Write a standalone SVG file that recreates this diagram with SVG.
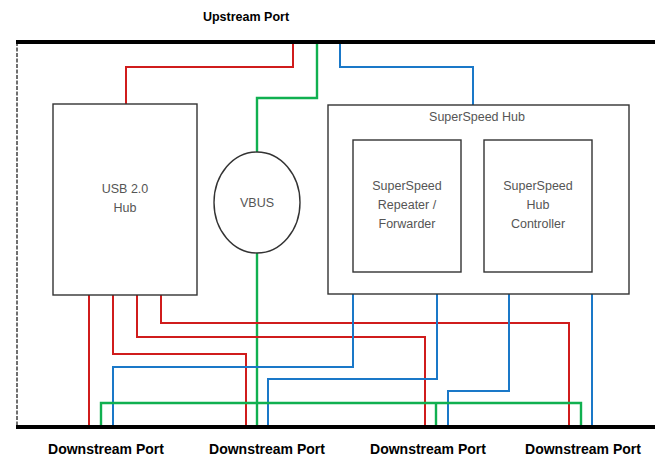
<svg xmlns="http://www.w3.org/2000/svg" width="655" height="456" viewBox="0 0 655 456">
<style>
.box{fill:#fff;stroke:#333;stroke-width:1.4}
.lbl{font-family:"Liberation Sans",Arial,sans-serif;font-size:12.5px;fill:#555;text-anchor:middle}
.port{font-family:"Liberation Sans",Arial,sans-serif;font-weight:bold;fill:#000;text-anchor:middle}
.r{fill:none;stroke:#d01c1c;stroke-width:2}
.g{fill:none;stroke:#10b050;stroke-width:2.4}
.b{fill:none;stroke:#1a78c8;stroke-width:2}
</style>
<rect width="655" height="456" fill="#fff"/>
<g id="frame">
<line x1="17" y1="42" x2="17" y2="427" stroke="#333" stroke-width="1.4" stroke-dasharray="4 1.5"/>
<line x1="16" y1="42" x2="655" y2="42" stroke="#000" stroke-width="4"/>
<line x1="16" y1="427" x2="655" y2="427" stroke="#000" stroke-width="4"/>
</g>
<g id="connectors">
<polyline class="r" points="293,44 293,67 126,67 126,104"/>
<polyline class="g" points="317,44 317,98 257,98 257,152"/>
<polyline class="b" points="340,44 340,67 473,67 473,105"/>
<line class="g" x1="257" y1="253" x2="257" y2="425"/>
<line class="r" x1="89" y1="295" x2="89" y2="425"/>
<polyline class="r" points="113,295 113,354 246,354 246,425"/>
<polyline class="r" points="137,295 137,337 425,337 425,425"/>
<polyline class="r" points="161,295 161,323 569,323 569,425"/>
<polyline class="b" points="353,294 353,367 113,367 113,425"/>
<polyline class="b" points="437,294 437,379 268,379 268,425"/>
<polyline class="b" points="509,294 509,391 448,391 448,425"/>
<line class="b" x1="592" y1="294" x2="592" y2="425"/>
<polyline class="g" points="101,425 101,403 581,403 581,425"/>
<line class="g" x1="436" y1="403" x2="436" y2="425"/>
</g>
<g id="usb2hub">
<rect class="box" x="53" y="104" width="144" height="191"/>
<text class="lbl" x="125" y="193">USB 2.0</text>
<text class="lbl" x="125" y="212">Hub</text>
</g>
<g id="vbus">
<ellipse class="box" cx="257" cy="202.5" rx="43" ry="50.5"/>
<text class="lbl" x="257" y="207">VBUS</text>
</g>
<g id="sshub">
<rect class="box" x="328" y="105" width="301" height="189"/>
<text class="lbl" x="477" y="121">SuperSpeed Hub</text>
</g>
<g id="repeater">
<rect class="box" x="353" y="140" width="108" height="132"/>
<text class="lbl" x="407" y="190">SuperSpeed</text>
<text class="lbl" x="407" y="209">Repeater /</text>
<text class="lbl" x="407" y="228">Forwarder</text>
</g>
<g id="controller">
<rect class="box" x="484" y="140" width="108" height="132"/>
<text class="lbl" x="538" y="190">SuperSpeed</text>
<text class="lbl" x="538" y="209">Hub</text>
<text class="lbl" x="538" y="228">Controller</text>
</g>
<g id="labels">
<text class="port" x="246" y="21" font-size="12.5">Upstream Port</text>
<text class="port" x="106" y="454" font-size="14">Downstream Port</text>
<text class="port" x="267" y="454" font-size="14">Downstream Port</text>
<text class="port" x="428" y="454" font-size="14">Downstream Port</text>
<text class="port" x="583" y="454" font-size="14">Downstream Port</text>
</g>
</svg>
